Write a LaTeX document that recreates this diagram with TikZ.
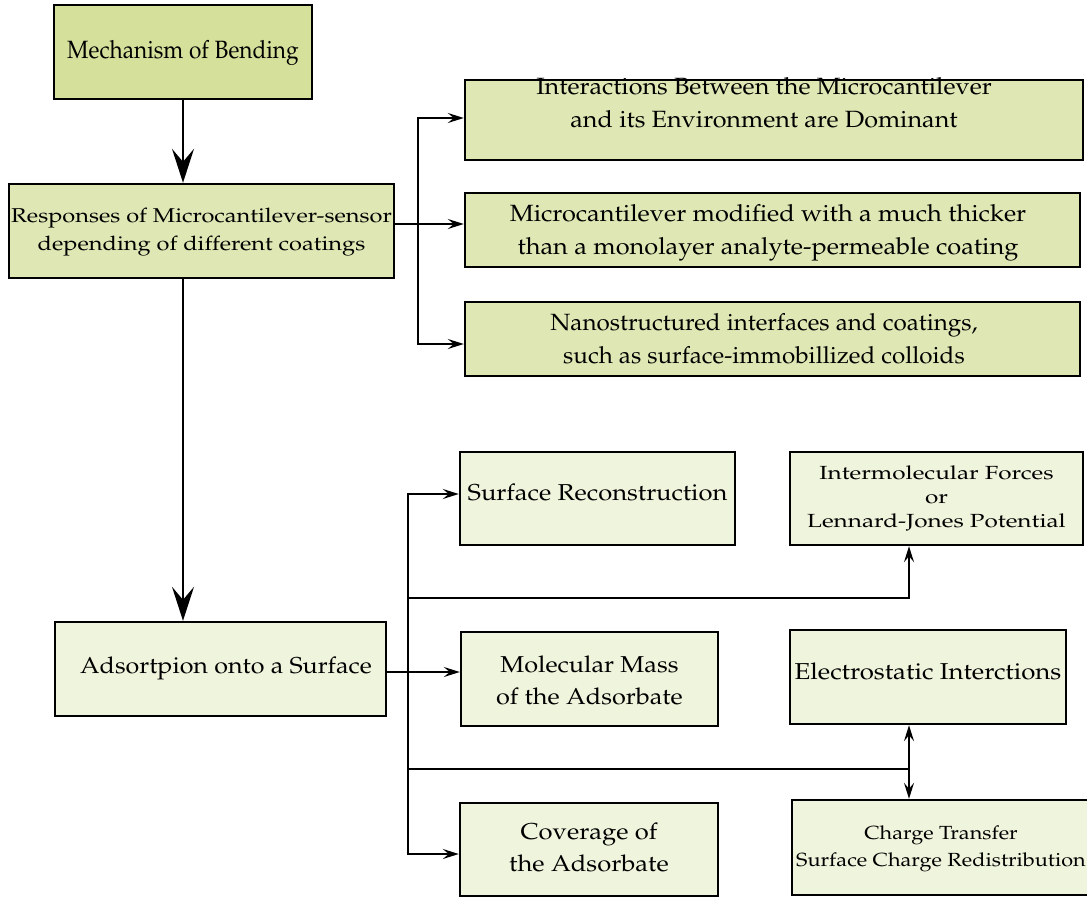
\documentclass[tikz,border=0pt]{standalone}
\usepackage[T1]{fontenc}
\usepackage{mathpazo}
\usepackage{graphicx}
\usetikzlibrary{arrows.meta}

\definecolor{topfill}{RGB}{213,225,155}
\definecolor{midfill}{RGB}{223,232,180}
\definecolor{lowfill}{RGB}{239,244,220}

% centred lines of text, widened or narrowed by a horizontal factor
\newcommand{\widetext}[2]{\scalebox{#1}[1]{\begin{tabular}{@{}c@{}}#2\end{tabular}}}

\tikzset{
  box/.style={draw=black, line width=2.4pt, rectangle, inner sep=0pt, align=center},
  topbox/.style={box, fill=topfill},
  midbox/.style={box, fill=midfill},
  lowbox/.style={box, fill=lowfill},
  plain/.style={inner sep=0pt, align=center},
  conn/.style={line width=2pt, draw=black},
  arr/.style={conn, -{Stealth[length=16pt, width=10pt, inset=6pt]}},
  dbl/.style={conn, {Stealth[length=16pt, width=10pt, inset=6pt]}-{Stealth[length=16pt, width=10pt, inset=6pt]}},
  bigarr/.style={conn, -{Stealth[length=34pt, width=22pt, inset=13pt]}},
  fbig/.style={font=\fontsize{25}{30}\selectfont},
  fmid/.style={font=\fontsize{20}{28}\selectfont},
  flarge/.style={font=\fontsize{23.5}{33}\selectfont},
  flow/.style={font=\fontsize{23}{32}\selectfont},
  fsmall/.style={font=\fontsize{19}{24}\selectfont},
  fcharge/.style={font=\fontsize{19}{27}\selectfont},
}

\begin{document}
\begin{tikzpicture}[x=1pt, y=-1pt]
\useasboundingbox (0,0) rectangle (1087,897);

% upper column
\node[topbox, fbig, minimum width=258pt, minimum height=94pt] (mech) at (183,52)
  {\widetext{0.906}{Mechanism of Bending}};
\node[midbox, fmid, minimum width=385pt, minimum height=94pt] (resp) at (201.5,231)
  {\widetext{1.18}{Responses of Microcantilever-sensor\\depending of different coatings}};

% coating branches
\node[midbox, minimum width=618pt, minimum height=80pt] (inter) at (774,120) {};
\node[plain, flarge] (interT) at (764,104)
  {\widetext{1.07}{Interactions Between the Microcantilever\\and its Environment are Dominant}};
\node[midbox, minimum width=615pt, minimum height=74pt] (mod) at (772.5,230) {};
\node[plain, flarge] (modT) at (768,231)
  {\widetext{1.08}{Microcantilever modified with a much thicker\\than a monolayer analyte-permeable coating}};
\node[midbox, minimum width=615pt, minimum height=74pt] (nano) at (772.5,339) {};
\node[plain, flarge] (nanoT) at (764,340)
  {\widetext{1.03}{Nanostructured interfaces and coatings,\\such as surface-immobillized colloids}};

% adsorption and its factors
\node[lowbox, minimum width=331pt, minimum height=94pt] (ads) at (220.5,669) {};
\node[plain, flow] (adsT) at (226,667) {\widetext{1.09}{Adsortpion onto a Surface}};
\node[lowbox, minimum width=275pt, minimum height=93pt] (surf) at (597.5,498.5) {};
\node[plain, flow] (surfT) at (597.5,494) {\widetext{1.11}{Surface Reconstruction}};
\node[lowbox, fsmall, minimum width=293pt, minimum height=93pt] (lj) at (936.5,498.5)
  {\widetext{1.28}{Intermolecular Forces\\or\\Lennard-Jones Potential}};
\node[lowbox, minimum width=257pt, minimum height=94pt] (mass) at (589.5,679) {};
\node[plain, flow] (massT) at (589.5,682) {\widetext{1.1}{Molecular Mass\\of the Adsorbate}};
\node[lowbox, minimum width=276pt, minimum height=94pt] (elec) at (928,677) {};
\node[plain, flow] (elecT) at (928,673) {\widetext{1.12}{Electrostatic Interctions}};
\node[lowbox, flow, minimum width=258pt, minimum height=93pt] (cov) at (589,849.5)
  {\widetext{1.11}{Coverage of\\the Adsorbate}};
\node[lowbox, fcharge, minimum width=298pt, minimum height=95pt] (chg) at (941,847.5)
  {\widetext{1.14}{Charge Transfer\\Surface Charge Redistribution}};

% junction points
\coordinate (t1) at (418,118);
\coordinate (t2) at (418,344);
\coordinate (rb) at (418,224);
\coordinate (b1) at (408,494);
\coordinate (b2) at (408,854);
\coordinate (am) at (408,672);
\coordinate (h1) at (408,598);
\coordinate (v1) at (909,598);
\coordinate (h2) at (408,769);
\coordinate (v2) at (909,769);

% main flow
\draw[bigarr] (mech.south) -- (resp.north -| mech.south);
\draw[bigarr] (resp.south -| mech.south) -- (ads.north -| mech.south);

% coating branches
\draw[arr] (t2) -- (t1) -- (inter.west |- t1);
\draw[arr] (t1) -- (t2) -- (nano.west |- t2);
\draw[arr] (resp.east |- rb) -- (mod.west |- rb);

% adsorption branches
\draw[arr] (b2) -- (b1) -- (surf.west |- b1);
\draw[arr] (b1) -- (b2) -- (cov.west |- b2);
\draw[arr] (ads.east |- am) -- (mass.west |- am);
\draw[arr] (h1) -- (v1) -- (lj.south -| v1);
\draw[conn] (h2) -- (v2);
\draw[dbl] (elec.south -| v2) -- (chg.north -| v2);
\end{tikzpicture}
\end{document}
